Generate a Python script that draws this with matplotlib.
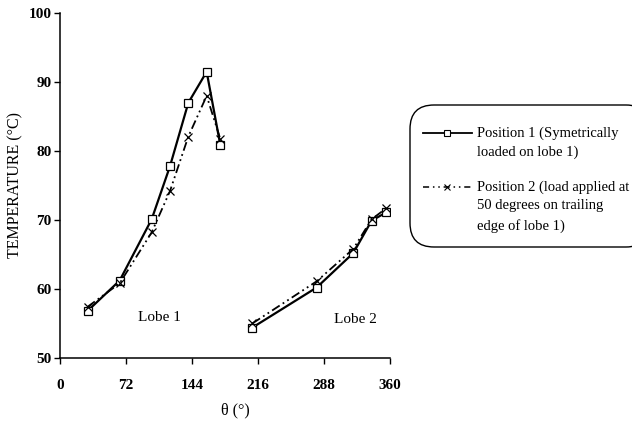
import numpy as np
import matplotlib.pyplot as plt
from matplotlib.patches import FancyBboxPatch

plt.rcParams['font.family'] = ['Liberation Serif', 'DejaVu Serif']

# lobe 1 and lobe 2 angles (deg)
theta_l1 = [30, 65, 100, 120, 140, 160, 175]
theta_l2 = [210, 280, 320, 340, 356]

# position 1 - symmetrically loaded
p1_l1 = [56.8, 61.2, 70.1, 77.8, 87.0, 91.5, 80.8]
p1_l2 = [54.4, 60.2, 65.2, 69.9, 71.1]

# position 2 - load at 50 deg on trailing edge
p2_l1 = [57.4, 60.8, 68.2, 74.2, 82.1, 88.0, 81.7]
p2_l2 = [55.0, 61.1, 65.8, 70.1, 71.7]

xticks = [0, 72, 144, 216, 288, 360]
yticks = [50, 60, 70, 80, 90, 100]

labels = [['Position 1 (Symetrically', 'loaded on lobe 1)'],
          ['Position 2 (load applied at', '50 degrees on trailing', 'edge of lobe 1)']]

fig = plt.figure(figsize=(6.32, 4.23), dpi=100)
ax = fig.add_axes([0.095, 0.154, 0.522, 0.815])

sty1 = dict(color='black', lw=1.6, ls='-', marker='s', ms=5.5, mfc='white', mec='black', mew=0.9)
sty2 = dict(color='black', lw=1.3, ls=(0, (5, 2, 1, 2, 1, 2)), marker='x', ms=6, mew=0.9)

ax.plot(theta_l1, p1_l1, **sty1)
ax.plot(theta_l2, p1_l2, **sty1)
ax.plot(theta_l1, p2_l1, **sty2)
ax.plot(theta_l2, p2_l2, **sty2)

ax.set_xlim(0, 360)
ax.set_ylim(50, 100)
ax.set_xticks(xticks)
ax.set_yticks(yticks)
ax.tick_params(labelsize=11, length=4, width=1)
ax.tick_params(axis='x', pad=11)
ax.tick_params(axis='y', pad=2)
for lab in ax.get_xticklabels() + ax.get_yticklabels():
    lab.set_fontweight('bold')
for s in ['top', 'right']:
    ax.spines[s].set_visible(False)
for s in ['left', 'bottom']:
    ax.spines[s].set_linewidth(1.1)

ax.set_xlabel('θ (°)', fontsize=11.5)
ax.xaxis.set_label_coords(0.53, -0.13)
ax.set_ylabel('TEMPERATURE (°C)', fontsize=11.5)
ax.yaxis.set_label_coords(-0.112, 0.5)

ax.text(109, 55.8, 'Lobe 1', fontsize=11, ha='center', va='center')
ax.text(322, 55.5, 'Lobe 2', fontsize=11, ha='center', va='center')

# legend drawn in pixel space on an overlay axes
lax = fig.add_axes([0, 0, 1, 1])
lax.set_xlim(0, 632)
lax.set_ylim(423, 0)
lax.axis('off')
lax.add_patch(FancyBboxPatch((410, 105), 240, 142,
                             boxstyle='round,pad=0,rounding_size=24',
                             fc='white', ec='black', lw=1.0))
row_y = [[133, 152], [187, 206, 226]]
lax.plot([423, 472], [row_y[0][0]] * 2, color='black', lw=1.3)
lax.plot([447], [row_y[0][0]], marker='s', ms=4.5, mfc='white', mec='black', mew=0.8)
lax.plot([423, 472], [row_y[1][0]] * 2, color='black', lw=1.1, ls=(0, (4, 2.5, 1, 2.5, 1, 2.5)))
lax.plot([447], [row_y[1][0]], marker='x', ms=5, mec='black', mew=0.8, color='black')
for lines, ys in zip(labels, row_y):
    for txt, y in zip(lines, ys):
        lax.text(477, y, txt, fontsize=10.5, ha='left', va='center')

fig.savefig('out.png', dpi=100)
